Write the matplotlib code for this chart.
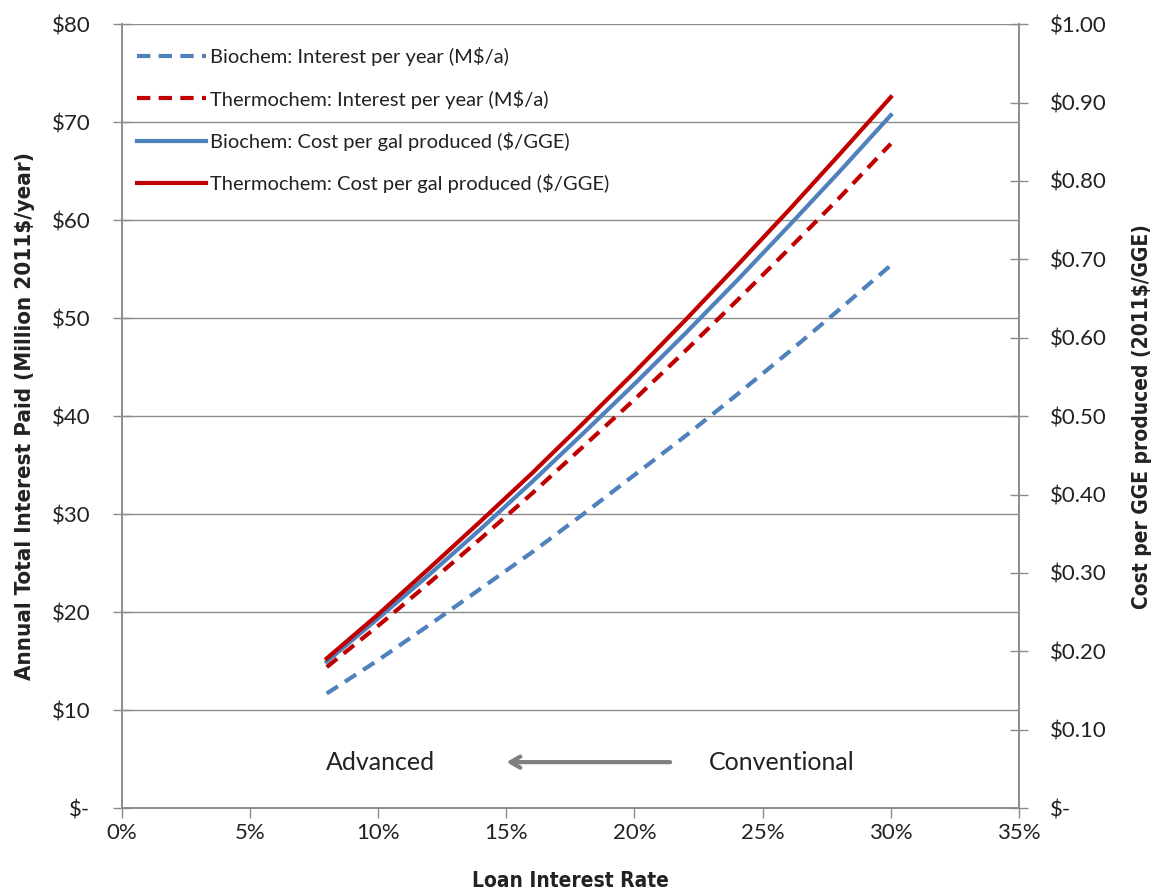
import matplotlib
matplotlib.use("Agg")
import matplotlib.pyplot as plt
from matplotlib.ticker import FuncFormatter, MultipleLocator

# ---- data ----
rates = [8, 10, 12, 14, 16, 18, 20, 22, 24, 26, 28, 30]  # loan interest rate, %
bio_interest = [11.7, 15.1, 18.7, 22.4, 26.1, 30.0, 34.0, 38.0, 42.2, 46.5, 50.9, 55.4]      # M$/a
thermo_interest = [14.4, 18.6, 23.0, 27.5, 32.1, 36.9, 41.7, 46.7, 51.8, 57.0, 62.3, 67.8]   # M$/a
bio_cost = [0.187, 0.242, 0.298, 0.356, 0.416, 0.478, 0.541, 0.606, 0.673, 0.742, 0.812, 0.884]     # $/GGE
thermo_cost = [0.191, 0.247, 0.306, 0.366, 0.427, 0.491, 0.556, 0.623, 0.692, 0.762, 0.834, 0.907]  # $/GGE

labels = ["Biochem: Interest per year (M$/a)",
          "Thermochem: Interest per year (M$/a)",
          "Biochem: Cost per gal produced ($/GGE)",
          "Thermochem: Cost per gal produced ($/GGE)"]

BLUE = "#4F81BD"
RED = "#C00000"
GRID = "#8C8C8C"
TXT = "#222222"

plt.rcParams['font.family'] = ['Lato', 'DejaVu Sans']

fig = plt.figure(figsize=(11.58, 8.96), dpi=100)
ax = fig.add_axes([0.105, 0.098, 0.775, 0.875])
ax2 = ax.twinx()

l1, = ax.plot(rates, bio_interest, color=BLUE, lw=3, dashes=(3.2, 2.0), label=labels[0])
l2, = ax.plot(rates, thermo_interest, color=RED, lw=3, dashes=(3.2, 2.0), label=labels[1])
l3, = ax2.plot(rates, bio_cost, color=BLUE, lw=3, label=labels[2])
l4, = ax2.plot(rates, thermo_cost, color=RED, lw=3, label=labels[3])

ax.set_xlim(0, 35)
ax.set_ylim(0, 80)
ax2.set_ylim(0, 1.0)

ax.xaxis.set_major_locator(MultipleLocator(5))
ax.yaxis.set_major_locator(MultipleLocator(10))
ax2.yaxis.set_major_locator(MultipleLocator(0.1))

ax.xaxis.set_major_formatter(FuncFormatter(lambda v, p: f"{v:.0f}%"))
ax.yaxis.set_major_formatter(FuncFormatter(lambda v, p: "$-" if abs(v) < 1e-9 else f"${v:.0f}"))
ax2.yaxis.set_major_formatter(FuncFormatter(lambda v, p: "$-" if abs(v) < 1e-9 else f"${v:.2f}"))

ax.grid(axis='y', color=GRID, lw=1)
ax.set_axisbelow(True)

for a in (ax, ax2):
    a.spines['top'].set_visible(False)
    for s in ('left', 'right', 'bottom'):
        a.spines[s].set_color(GRID)
        a.spines[s].set_linewidth(1.2)
    a.tick_params(colors=GRID, labelcolor=TXT, labelsize=16, width=1)

ax.tick_params(axis='x', direction='out', length=7, pad=4)
ax.tick_params(axis='y', direction='inout', length=13, pad=16)
ax2.tick_params(axis='y', direction='inout', length=13, pad=16)

lab_font = dict(fontweight='bold', color=TXT, family=['DejaVu Sans'], fontstretch='condensed')
ax.set_xlabel("Loan Interest Rate", labelpad=20, fontsize=15, **lab_font)
ax.set_ylabel("Annual Total Interest Paid (Million 2011$/year)", labelpad=12, fontsize=16, **lab_font)
ax2.set_ylabel("Cost per GGE produced (2011$/GGE)", labelpad=18, fontsize=15, **lab_font)

leg = ax2.legend(handles=[l1, l2, l3, l4], loc='upper left', frameon=False, fontsize=14.5,
                 handlelength=3.4, handletextpad=0.2, labelspacing=1.15,
                 bbox_to_anchor=(-0.0085, 1.0), borderaxespad=0.75)
for t in leg.get_texts():
    t.set_color(TXT)

# annotation
ax.text(10.1, 4.7, "Advanced", ha='center', va='center', fontsize=18, color=TXT)
ax.text(25.75, 4.7, "Conventional", ha='center', va='center', fontsize=18, color=TXT)
ax.annotate("", xy=(14.9, 4.7), xytext=(21.5, 4.7),
            arrowprops=dict(arrowstyle='->,head_length=0.7,head_width=0.4', color='#7F7F7F', lw=3))

fig.savefig("out.png", dpi=100)
